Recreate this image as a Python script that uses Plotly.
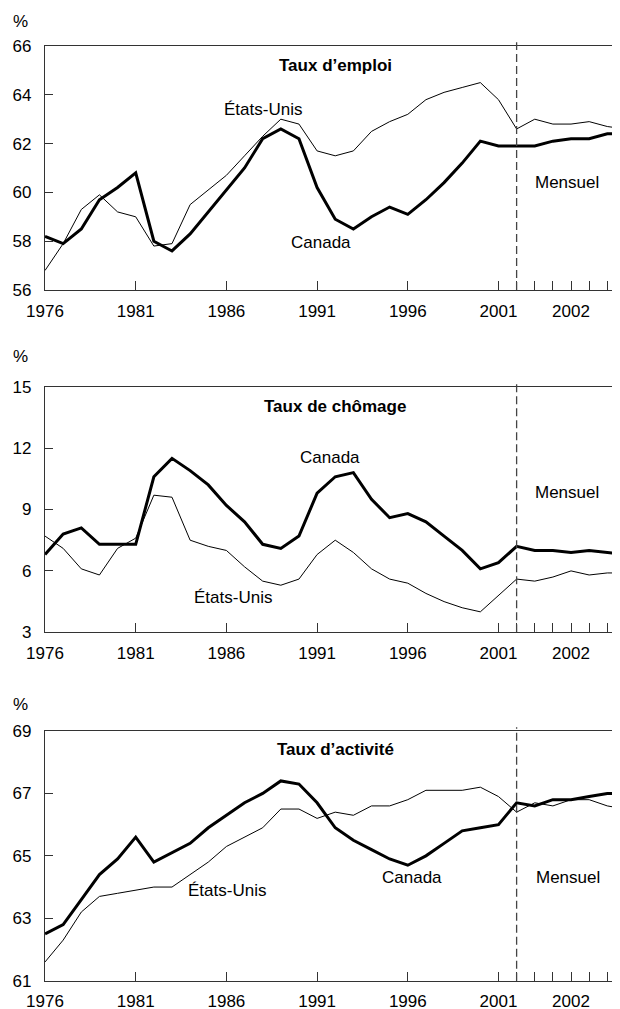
import plotly.graph_objects as go

# x positions: 0 = 1976 ... 25 = 2001, then monthly points from 26 on
years = list(range(1976, 2002))
monthly_n = 7

emp_canada = [58.2, 57.9, 58.5, 59.7, 60.2, 60.8, 58.0, 57.6, 58.3, 59.2,
              60.1, 61.0, 62.2, 62.6, 62.2, 60.2, 58.9, 58.5, 59.0, 59.4,
              59.1, 59.7, 60.4, 61.2, 62.1, 61.9]
emp_canada_m = [61.9, 61.9, 62.1, 62.2, 62.2, 62.4, 62.4]
emp_us = [56.8, 57.9, 59.3, 59.9, 59.2, 59.0, 57.8, 57.9, 59.5, 60.1,
          60.7, 61.5, 62.3, 63.0, 62.8, 61.7, 61.5, 61.7, 62.5, 62.9,
          63.2, 63.8, 64.1, 64.3, 64.5, 63.8]
emp_us_m = [62.6, 63.0, 62.8, 62.8, 62.9, 62.7, 62.6]

unemp_canada = [6.8, 7.8, 8.1, 7.3, 7.3, 7.3, 10.6, 11.5, 10.9, 10.2,
                9.2, 8.4, 7.3, 7.1, 7.7, 9.8, 10.6, 10.8, 9.5, 8.6,
                8.8, 8.4, 7.7, 7.0, 6.1, 6.4]
unemp_canada_m = [7.2, 7.0, 7.0, 6.9, 7.0, 6.9, 6.8]
unemp_us = [7.7, 7.1, 6.1, 5.8, 7.1, 7.6, 9.7, 9.6, 7.5, 7.2,
            7.0, 6.2, 5.5, 5.3, 5.6, 6.8, 7.5, 6.9, 6.1, 5.6,
            5.4, 4.9, 4.5, 4.2, 4.0, 4.8]
unemp_us_m = [5.6, 5.5, 5.7, 6.0, 5.8, 5.9, 5.9]

part_canada = [62.5, 62.8, 63.6, 64.4, 64.9, 65.6, 64.8, 65.1, 65.4, 65.9,
               66.3, 66.7, 67.0, 67.4, 67.3, 66.7, 65.9, 65.5, 65.2, 64.9,
               64.7, 65.0, 65.4, 65.8, 65.9, 66.0]
part_canada_m = [66.7, 66.6, 66.8, 66.8, 66.9, 67.0, 67.0]
part_us = [61.6, 62.3, 63.2, 63.7, 63.8, 63.9, 64.0, 64.0, 64.4, 64.8,
           65.3, 65.6, 65.9, 66.5, 66.5, 66.2, 66.4, 66.3, 66.6, 66.6,
           66.8, 67.1, 67.1, 67.1, 67.2, 66.9]
part_us_m = [66.4, 66.7, 66.6, 66.8, 66.8, 66.6, 66.5]

tick_pos = [0, 5, 10, 15, 20, 25, 26, 27, 28, 29, 30, 31]
tick_text = ["1976", "1981", "1986", "1991", "1996", "2001",
             "", "", "", "2002", "", ""]

FONT = "Liberation Sans, Arial, sans-serif"
AX = "#333333"

x_all = list(range(len(years) + monthly_n))

panels = [
    dict(title="Taux d’emploi", ca=emp_canada + emp_canada_m, us=emp_us + emp_us_m,
         rng=[56, 66], ticks=[56, 58, 60, 62, 64, 66], dom=[0.71828, 0.96204],
         pct_y=0.98631, title_y=65.22,
         labels=[("États-Unis", 12.0, 63.38), ("Canada", 15.2, 57.93), ("Mensuel", 28.8, 60.39)]),
    dict(title="Taux de chômage", ca=unemp_canada + unemp_canada_m, us=unemp_us + unemp_us_m,
         rng=[3, 15], ticks=[3, 6, 9, 12, 15], dom=[0.37632, 0.62168],
         pct_y=0.65165, title_y=14.02,
         labels=[("Canada", 15.7, 11.52), ("États-Unis", 10.37, 4.68), ("Mensuel", 28.8, 9.81)]),
    dict(title="Taux d’activité", ca=part_canada + part_canada_m, us=part_us + part_us_m,
         rng=[61, 69], ticks=[61, 63, 65, 67, 69], dom=[0.02827, 0.27772],
         pct_y=0.30370, title_y=68.41,
         labels=[("États-Unis", 10.04, 63.9), ("Canada", 20.24, 64.32), ("Mensuel", 28.85, 64.32)]),
]

fig = go.Figure()
# page body has an 8px margin, so the figure is 8px smaller than the window
layout = dict(
    width=612, height=1001,
    margin=dict(l=0, r=0, t=0, b=0),
    paper_bgcolor="white", plot_bgcolor="white",
    showlegend=False,
    font=dict(family=FONT, size=17, color="black"),
    annotations=[], shapes=[],
)

for i, p in enumerate(panels):
    n = "" if i == 0 else str(i + 1)
    xa, ya = "x" + n, "y" + n
    fig.add_trace(go.Scatter(x=x_all, y=p["us"], mode="lines", xaxis=xa, yaxis=ya,
                             line=dict(color="black", width=1)))
    fig.add_trace(go.Scatter(x=x_all, y=p["ca"], mode="lines", xaxis=xa, yaxis=ya,
                             line=dict(color="black", width=3)))
    layout["xaxis" + n] = dict(
        domain=[0.0605, 1.0], range=[0, 31.7], anchor=ya,
        tickvals=tick_pos, ticktext=tick_text, ticks="inside", ticklen=9,
        tickcolor=AX, tickwidth=1, showline=True, linecolor=AX, linewidth=1.2,
        mirror=True, showgrid=False, zeroline=False, automargin=False,
        ticklabelstandoff=5, tickfont=dict(family=FONT, size=17),
    )
    layout["yaxis" + n] = dict(
        domain=p["dom"], range=p["rng"], anchor=xa,
        tickvals=p["ticks"], ticks="inside", ticklen=8, tickcolor=AX, tickwidth=1,
        showline=True, linecolor=AX, linewidth=1.2, showgrid=False,
        zeroline=False, automargin=False, ticklabelstandoff=9,
        tickfont=dict(family=FONT, size=17),
    )
    layout["shapes"].append(dict(
        type="line", xref=xa, yref=ya + " domain", x0=26, x1=26, y0=0, y1=1.015,
        line=dict(color="#444444", width=1.3, dash="8px,4px"),
    ))
    layout["annotations"].append(dict(
        text="<b>" + p["title"] + "</b>", xref=xa, yref=ya, x=16.0, y=p["title_y"],
        showarrow=False, font=dict(family=FONT, size=17),
    ))
    for txt, ax_, ay_ in p["labels"]:
        layout["annotations"].append(dict(
            text=txt, xref=xa, yref=ya, x=ax_, y=ay_, showarrow=False,
            font=dict(family=FONT, size=17),
        ))
    layout["annotations"].append(dict(
        text="%", xref="paper", yref="paper", x=0.0212, y=p["pct_y"],
        xanchor="center", yanchor="middle",
        showarrow=False, font=dict(family=FONT, size=17),
    ))

fig.update_layout(**layout)
fig.write_html("out.html")
